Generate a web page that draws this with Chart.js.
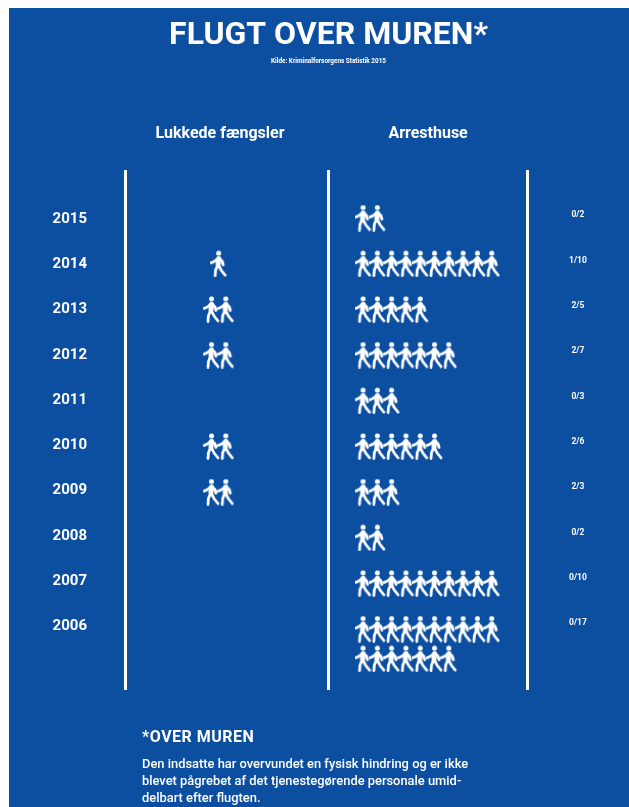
<!DOCTYPE html>
<html>
<head>
<meta charset="utf-8">
<script src="https://cdn.jsdelivr.net/npm/chart.js@4"></script>
<style>
  html, body { margin: 0; background: #fff; }
  #wrap { position: relative; width: 629px; height: 807px; overflow: hidden; }
  #panel { position: absolute; left: 9px; top: 8px; right: 0; bottom: 0; background: #0c4fa1; }
  canvas { position: absolute; left: 0; top: 0; }
  #note { position: absolute; left: 142px; top: 727px; width: 360px; color: #fff;
          font-family: Roboto, sans-serif; white-space: nowrap; }
  #note h3 { margin: 0 0 9px; font-size: 16px; line-height: 19px; font-weight: 700; letter-spacing: .5px; }
  #note p { margin: 0; font-size: 12.9px; line-height: 17px; font-weight: 500; }
</style>
</head>
<body>
<div id="wrap">
  <div id="panel"></div>
  <canvas id="chart" width="629" height="807"></canvas>
  <div id="note">
    <h3>*OVER MUREN</h3>
    <p>Den indsatte har overvundet en fysisk hindring og er ikke<br>blevet pågrebet af det tjenestegørende personale umid-<br>delbart efter flugten.</p>
  </div>
</div>
<script>
const FONT = 'Roboto, sans-serif';
const years = [2015, 2014, 2013, 2012, 2011, 2010, 2009, 2008, 2007, 2006];
const lukkede = [0, 1, 2, 2, 0, 2, 2, 0, 0, 0];
const arresthuse = [2, 10, 5, 7, 3, 6, 3, 2, 10, 17];
const ratioLabels = ['0/2', '1/10', '2/5', '2/7', '0/3', '2/6', '2/3', '0/2', '0/10', '0/17'];
const columns = ['Lukkede fængsler', 'Arresthuse'];

// walking figure used as point style
function makePerson() {
  const c = document.createElement('canvas');
  c.width = 17;
  c.height = 27;
  const g = c.getContext('2d');
  g.strokeStyle = '#fff';
  g.fillStyle = '#fff';
  g.lineCap = 'round';
  g.lineJoin = 'round';
  g.beginPath();
  g.arc(8.5, 3, 2.5, 0, Math.PI * 2);
  g.fill();
  g.lineWidth = 5;
  g.beginPath();
  g.moveTo(8.5, 8.5);
  g.lineTo(8, 14);
  g.stroke();
  g.lineWidth = 2.8;
  g.beginPath();
  g.moveTo(8, 8);
  g.lineTo(4.5, 11);
  g.lineTo(1.2, 12.5);
  g.moveTo(9, 8);
  g.lineTo(12, 11);
  g.lineTo(13, 14.5);
  g.moveTo(7.4, 15);
  g.lineTo(5.4, 20);
  g.lineTo(5, 25.5);
  g.moveTo(8.6, 15);
  g.lineTo(11, 20);
  g.lineTo(15, 25);
  g.stroke();
  return c;
}

// one point per person, rows of ten
function buildPoints(counts, startFor) {
  const pts = [];
  counts.forEach((n, i) => {
    for (let k = 0; k < n; k++) {
      pts.push({ x: startFor(n) + k % 10, y: years[i] - Math.floor(k / 10) * 0.65 });
    }
  });
  return pts;
}

const person = makePerson();

new Chart(document.getElementById('chart'), {
  type: 'scatter',
  data: {
    datasets: [
      { label: columns[0], data: buildPoints(lukkede, n => 6.55 - (Math.min(n, 10) - 1) / 2), pointStyle: person, yAxisID: 'rows' },
      { label: columns[1], data: buildPoints(arresthuse, () => 16.65), pointStyle: person, yAxisID: 'rows' }
    ]
  },
  options: {
    responsive: false,
    animation: false,
    layout: { padding: { left: 28, right: 0, top: 17, bottom: 117 } },
    plugins: {
      legend: { display: false },
      tooltip: { enabled: false },
      title: {
        display: true,
        text: 'FLUGT OVER MUREN*',
        color: '#fff',
        font: { family: FONT, size: 32, weight: 'bold' },
        padding: { top: 0, bottom: 2 }
      },
      subtitle: {
        display: true,
        text: 'Kilde: Kriminalforsorgens Statistik 2015',
        color: '#fff',
        font: { family: FONT, size: 6.4, weight: 'bold' },
        padding: { top: 0, bottom: 0 }
      }
    },
    scales: {
      x: {
        type: 'linear',
        position: 'top',
        min: 0,
        max: 28.12,
        afterFit: s => { s.height = 26; },
        afterBuildTicks: s => { s.ticks = [{ value: 0 }, { value: 14.2 }, { value: 28.12 }]; },
        ticks: { display: false },
        border: { display: false },
        grid: { color: '#fff', lineWidth: 3, drawTicks: false }
      },
      head: {
        type: 'linear',
        position: 'top',
        min: 0,
        max: 28.12,
        afterFit: s => { s.height = 79; },
        afterBuildTicks: s => { s.ticks = [{ value: 6.65 }, { value: 21.2 }]; },
        ticks: {
          color: '#fff',
          font: { family: FONT, size: 16, weight: 'bold' },
          maxRotation: 0,
          autoSkip: false,
          padding: 0,
          callback: v => (v < 14 ? columns[0] : columns[1])
        },
        border: { display: false },
        grid: { display: false, drawTicks: false }
      },
      y: {
        type: 'linear',
        min: 2004.6,
        max: 2016.08,
        afterFit: s => { s.width = 97; },
        afterBuildTicks: s => { s.ticks = years.map(value => ({ value })); },
        ticks: {
          color: '#fff',
          padding: 38,
          autoSkip: false,
          font: { family: FONT, size: 15, weight: 'bold' },
          callback: v => String(v)
        },
        border: { display: false },
        grid: { display: false, drawTicks: false }
      },
      rows: {
        axis: 'y',
        type: 'linear',
        display: false,
        min: 2004.665,
        max: 2016.05
      },
      ratio: {
        axis: 'y',
        type: 'linear',
        position: 'right',
        min: 2004.52,
        max: 2016,
        afterFit: s => { s.width = 102; },
        afterBuildTicks: s => { s.ticks = years.map(value => ({ value })); },
        ticks: {
          color: '#fff',
          padding: 42,
          autoSkip: false,
          crossAlign: 'center',
          font: { family: FONT, size: 8.5, weight: 'bold' },
          callback: v => ratioLabels[years.indexOf(v)]
        },
        border: { display: false },
        grid: { display: false, drawTicks: false }
      }
    }
  }
});
</script>
</body>
</html>
